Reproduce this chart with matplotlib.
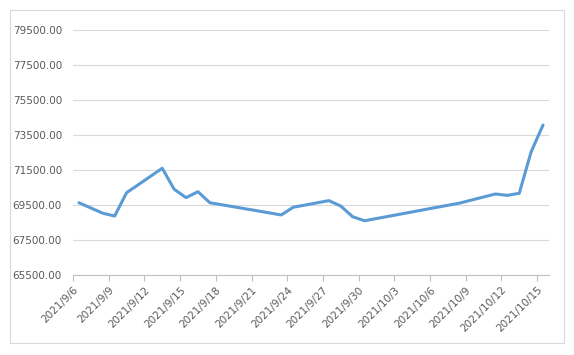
import numpy as np
import pandas as pd
import matplotlib
matplotlib.use("Agg")
from matplotlib import pyplot as plt
from matplotlib.patches import Rectangle

# trading days and closing values
dates = ['2021-09-06', '2021-09-07', '2021-09-08', '2021-09-09', '2021-09-10',
         '2021-09-13', '2021-09-14', '2021-09-15', '2021-09-16', '2021-09-17',
         '2021-09-22', '2021-09-23', '2021-09-24', '2021-09-27', '2021-09-28',
         '2021-09-29', '2021-09-30', '2021-10-08', '2021-10-11', '2021-10-12',
         '2021-10-13', '2021-10-14', '2021-10-15']
values = [69630, 69330, 69030, 68870, 70200,
          71600, 70400, 69920, 70260, 69630,
          69050, 68930, 69370, 69750, 69440,
          68830, 68600, 69610, 70130, 70050,
          70170, 72540, 74070]

yticks = [65500, 67500, 69500, 71500, 73500, 75500, 77500, 79500]
xstart = '2021-09-06'
xend = '2021-10-16'


def main():
    plt.rcParams['font.family'] = ['DejaVu Sans']

    fig = plt.figure(figsize=(5.74, 3.55), dpi=100)
    ax = fig.add_axes([73/574, 80/355, 476/574, 245/355])

    start = pd.Timestamp(xstart)
    # days since first tick, points sit in the middle of each day
    xs = np.array([(pd.Timestamp(d) - start).days for d in dates]) + 0.5
    ax.plot(xs, values, color='#5B9BD5', linewidth=2.2, solid_capstyle='round',
            solid_joinstyle='round', zorder=3)

    ax.set_ylim(yticks[0], yticks[-1])
    ax.set_yticks(yticks)
    ax.set_yticklabels(['%.2f' % v for v in yticks])

    ndays = (pd.Timestamp(xend) - start).days
    ax.set_xlim(0, ndays)
    tick_days = list(range(0, ndays, 3))
    ax.set_xticks(tick_days)
    labels = []
    for d in tick_days:
        t = start + pd.Timedelta(days=d)
        labels.append('%d/%d/%d' % (t.year, t.month, t.day))
    ax.set_xticklabels(labels, rotation=45, ha='right', rotation_mode='anchor')

    ax.grid(axis='y', color='#D9D9D9', linewidth=0.8)
    ax.set_axisbelow(True)
    for s in ['top', 'right', 'left']:
        ax.spines[s].set_visible(False)
    ax.spines['bottom'].set_color('#BFBFBF')
    ax.spines['bottom'].set_linewidth(0.8)

    ax.tick_params(axis='y', length=0, pad=8, labelsize=7.5, labelcolor='#595959')
    ax.tick_params(axis='x', length=4, width=0.8, color='#BFBFBF', pad=3,
                   labelsize=7.5, labelcolor='#595959')

    fig.patches.append(Rectangle((10/574, 12/355), 554/574, 333/355,
                                 transform=fig.transFigure, fill=False,
                                 edgecolor='#D9D9D9', linewidth=0.8))

    fig.savefig('out.png', dpi=100)


if __name__ == "__main__":
    main()
